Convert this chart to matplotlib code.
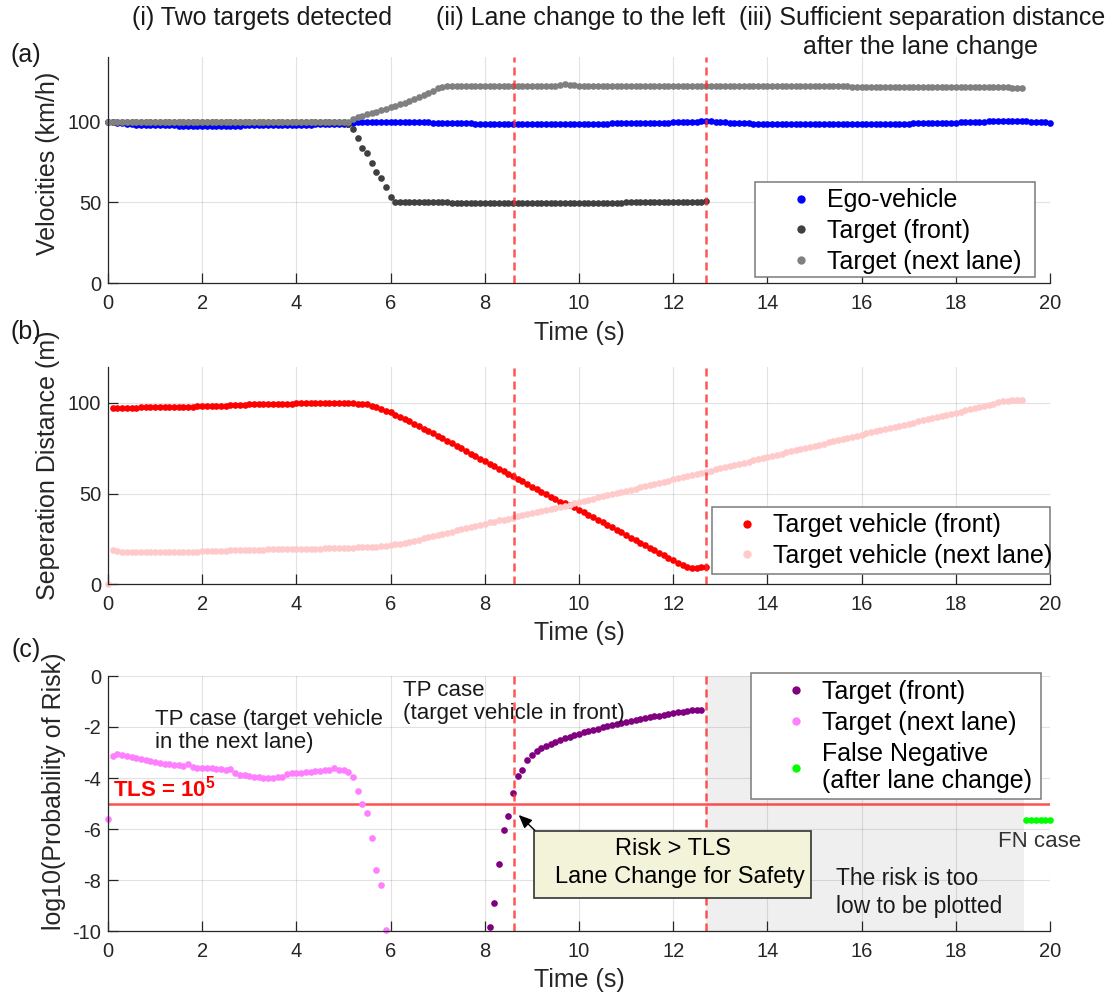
import matplotlib
matplotlib.use('Agg')
import numpy as np
import matplotlib.pyplot as plt
from matplotlib.patches import Rectangle

plt.rcParams['font.family'] = ['Liberation Sans', 'DejaVu Sans']
plt.rcParams['axes.unicode_minus'] = False
plt.rcParams['mathtext.fontset'] = 'custom'
plt.rcParams['mathtext.rm'] = 'Liberation Sans'
plt.rcParams['mathtext.bf'] = 'Liberation Sans:bold'

W, H = 1118, 997
dt = 0.1          # sampling step of every series (s)

# ---- (a) velocities (km/h), sampled every 0.1 s ----
ego_t0 = 0.0
ego_speed = [
    100.0, 99.6, 99.2, 98.9, 98.6, 98.4, 98.2, 98.1, 98.0, 97.9,
    97.8, 97.8, 97.7, 97.7, 97.7, 97.6, 97.6, 97.6, 97.6, 97.6,
    97.6, 97.6, 97.6, 97.6, 97.6, 97.6, 97.6, 97.6, 97.6, 97.7,
    97.7, 97.7, 97.7, 97.8, 97.8, 97.8, 97.9, 97.9, 98.0, 98.0,
    98.1, 98.1, 98.2, 98.2, 98.3, 98.3, 98.4, 98.4, 98.5, 98.5,
    98.6, 98.7, 99.3, 99.6, 99.7, 99.8, 99.8, 99.9, 99.9, 99.9,
    100.0, 100.0, 100.0, 99.9, 99.9, 99.8, 99.7, 99.6, 99.5, 99.4,
    99.3, 99.2, 99.1, 99.0, 99.0, 98.9, 98.9, 98.9, 98.8, 98.8,
    98.8, 98.8, 98.7, 98.7, 98.7, 98.7, 98.7, 98.7, 98.7, 98.7,
    98.7, 98.7, 98.7, 98.7, 98.7, 98.7, 98.7, 98.7, 98.7, 98.7,
    98.7, 98.7, 98.7, 98.8, 98.8, 98.8, 98.8, 98.9, 98.9, 98.9,
    99.0, 99.0, 99.1, 99.1, 99.2, 99.2, 99.3, 99.3, 99.4, 99.4,
    99.5, 99.6, 99.7, 99.8, 99.9, 100.0, 100.1, 100.2, 100.1, 100.0,
    99.8, 99.6, 99.4, 99.2, 99.1, 99.0, 98.9, 98.8, 98.8, 98.7,
    98.7, 98.7, 98.6, 98.6, 98.6, 98.6, 98.6, 98.6, 98.6, 98.6,
    98.6, 98.6, 98.6, 98.6, 98.6, 98.6, 98.6, 98.6, 98.6, 98.6,
    98.6, 98.6, 98.6, 98.6, 98.6, 98.7, 98.7, 98.7, 98.8, 98.8,
    98.8, 98.9, 98.9, 99.0, 99.0, 99.1, 99.1, 99.2, 99.2, 99.3,
    99.4, 99.5, 99.6, 99.7, 99.8, 99.9, 100.0, 100.1, 100.2, 100.3,
    100.4, 100.5, 100.5, 100.4, 100.3, 100.1, 99.9, 99.8, 99.6, 99.5,
    99.4]

front_t0 = 0.0
front_speed = [
    100.0, 100.0, 100.0, 100.0, 100.0, 100.0, 100.0, 100.0, 100.0, 100.0,
    100.0, 100.0, 100.0, 100.0, 100.0, 100.0, 100.0, 100.0, 100.0, 100.0,
    100.0, 100.0, 100.0, 100.0, 100.0, 100.0, 100.0, 100.0, 100.0, 100.0,
    100.0, 100.0, 100.0, 100.0, 100.0, 100.0, 100.0, 100.0, 100.0, 100.0,
    100.0, 100.0, 100.0, 100.0, 100.0, 100.0, 100.0, 100.0, 100.0, 100.0,
    100.0, 98.3, 95.3, 89.6, 83.5, 80.4, 74.2, 68.7, 65.4, 59.4,
    53.4, 50.3, 50.0, 50.0, 50.0, 50.0, 50.0, 50.0, 50.0, 50.0,
    50.0, 50.0, 50.0, 49.9, 49.9, 49.9, 49.9, 49.9, 49.9, 49.9,
    49.9, 49.9, 49.9, 49.9, 49.9, 49.9, 49.9, 49.9, 49.9, 49.9,
    49.8, 49.8, 49.8, 49.8, 49.8, 49.8, 49.8, 49.8, 49.8, 49.8,
    49.8, 49.9, 49.9, 49.9, 49.9, 49.9, 49.9, 49.9, 49.9, 49.9,
    50.0, 50.0, 50.0, 50.0, 50.0, 50.0, 50.0, 50.0, 50.0, 50.1,
    50.1, 50.1, 50.2, 50.2, 50.2, 50.3, 50.6, 50.9]

nextlane_t0 = 0.0
nextlane_speed = [
    100.0, 100.0, 100.0, 100.0, 100.0, 100.0, 100.0, 100.0, 100.0, 100.0,
    100.0, 100.0, 100.0, 100.0, 100.0, 100.0, 100.0, 100.0, 100.0, 100.0,
    100.0, 100.0, 100.0, 100.0, 100.0, 100.0, 100.0, 100.0, 100.0, 100.0,
    100.0, 100.0, 100.0, 100.0, 100.0, 100.0, 100.0, 100.0, 100.0, 100.0,
    100.0, 100.0, 100.0, 100.0, 100.0, 100.0, 100.0, 100.0, 100.0, 100.0,
    100.0, 100.0, 101.6, 102.6, 103.6, 104.5, 105.4, 106.2, 107.1, 108.0,
    108.9, 109.8, 110.8, 111.8, 112.8, 113.9, 115.1, 116.3, 117.5, 119.0,
    120.6, 121.6, 121.8, 121.8, 121.8, 121.8, 121.8, 121.8, 121.8, 121.8,
    121.8, 121.8, 121.8, 121.8, 121.8, 121.8, 121.8, 121.8, 121.8, 121.8,
    121.8, 121.8, 121.8, 121.8, 121.8, 122.2, 122.7, 123.0, 122.8, 122.4,
    122.0, 122.0, 122.0, 122.0, 122.0, 122.0, 122.0, 122.0, 122.0, 122.0,
    122.0, 122.0, 122.0, 122.0, 122.0, 122.0, 122.0, 122.0, 122.0, 122.0,
    122.0, 122.0, 122.0, 122.0, 122.0, 122.0, 122.0, 122.0, 121.9, 121.9,
    121.9, 121.9, 121.9, 121.9, 121.9, 121.9, 121.9, 121.9, 121.8, 121.8,
    121.8, 121.8, 121.8, 121.8, 121.8, 121.8, 121.8, 121.8, 121.8, 121.8,
    121.8, 121.8, 121.8, 121.8, 121.8, 121.8, 121.8, 121.8, 121.7, 121.7,
    121.7, 121.7, 121.7, 121.7, 121.7, 121.7, 121.7, 121.7, 121.7, 121.7,
    121.7, 121.7, 121.7, 121.7, 121.7, 121.7, 121.7, 121.7, 121.6, 121.6,
    121.6, 121.6, 121.6, 121.6, 121.6, 121.6, 121.6, 121.6, 121.5, 121.4,
    121.3, 121.2, 121.1, 121.1, 121.0]

# ---- (b) separation distance (m) ----
front_dist_t0 = 0.1
front_dist = [
    97.4, 97.4, 97.4, 97.5, 97.5, 97.5, 97.6, 97.6, 97.7, 97.7,
    97.7, 97.8, 97.8, 97.8, 97.9, 97.9, 98.0, 98.0, 98.1, 98.1,
    98.2, 98.3, 98.4, 98.5, 98.6, 98.7, 98.9, 99.0, 99.1, 99.2,
    99.3, 99.4, 99.4, 99.5, 99.5, 99.6, 99.6, 99.7, 99.7, 99.8,
    99.8, 99.8, 99.8, 99.8, 99.9, 99.9, 99.9, 99.9, 99.9, 99.9,
    99.9, 99.8, 99.7, 99.5, 99.2, 98.5, 97.6, 96.5, 95.6, 94.8,
    93.6, 92.4, 91.1, 89.8, 88.5, 87.2, 85.9, 84.6, 83.3, 81.9,
    80.5, 79.1, 77.7, 76.3, 74.9, 73.5, 72.1, 70.7, 69.3, 67.9,
    66.5, 65.1, 63.7, 62.3, 60.9, 59.5, 58.1, 56.7, 55.3, 53.9,
    52.5, 51.1, 49.7, 48.3, 46.9, 45.5, 44.6, 43.8, 42.6, 41.2,
    39.8, 38.4, 37.0, 35.6, 34.2, 32.8, 31.4, 30.0, 28.6, 27.2,
    25.8, 24.4, 23.0, 21.6, 20.2, 18.8, 17.4, 16.0, 14.6, 13.4,
    12.0, 10.6, 9.3, 9.2, 9.2, 9.3, 9.4]

next_dist_t0 = 0.0
next_dist = [
    0.0, 18.9, 18.1, 17.8, 17.8, 17.8, 17.8, 17.8, 17.8, 17.8,
    17.8, 17.8, 17.8, 17.8, 17.8, 17.8, 17.9, 17.9, 18.0, 18.0,
    18.1, 18.2, 18.3, 18.4, 18.5, 18.6, 18.7, 18.8, 18.9, 18.9,
    19.0, 19.0, 19.1, 19.1, 19.2, 19.2, 19.2, 19.3, 19.3, 19.3,
    19.4, 19.4, 19.5, 19.5, 19.6, 19.7, 19.8, 19.8, 19.9, 20.0,
    20.0, 20.1, 20.2, 20.3, 20.3, 20.4, 20.6, 20.8, 21.0, 21.3,
    21.6, 22.0, 22.4, 23.0, 23.5, 24.1, 24.7, 25.4, 26.0, 26.7,
    27.3, 27.9, 28.5, 29.1, 29.7, 30.3, 30.9, 31.6, 32.3, 32.9,
    33.5, 34.1, 34.6, 35.2, 35.7, 36.2, 36.8, 37.4, 38.0, 38.6,
    39.2, 39.8, 40.4, 41.0, 41.6, 42.2, 42.8, 43.3, 43.9, 44.7,
    45.4, 46.0, 46.6, 47.3, 47.9, 48.5, 49.1, 49.7, 50.4, 51.0,
    51.6, 52.2, 52.8, 53.5, 54.1, 54.7, 55.3, 55.9, 56.6, 57.2,
    57.8, 58.4, 59.0, 59.6, 60.3, 60.9, 61.5, 62.1, 62.7, 63.4,
    64.0, 64.6, 65.2, 65.8, 66.5, 67.1, 67.7, 68.3, 68.9, 69.6,
    70.2, 70.8, 71.4, 72.0, 72.7, 73.3, 73.9, 74.5, 75.1, 75.8,
    76.4, 77.0, 77.6, 78.2, 78.9, 79.5, 80.1, 80.7, 81.3, 82.0,
    82.6, 83.2, 83.8, 84.4, 85.0, 85.6, 86.2, 86.8, 87.4, 88.0,
    88.6, 89.2, 89.8, 90.4, 91.0, 91.6, 92.2, 92.8, 93.4, 94.0,
    94.6, 95.2, 95.9, 96.5, 97.1, 97.8, 98.4, 99.0, 99.7, 100.3,
    100.9, 101.3, 101.5, 101.6, 101.6]

# ---- (c) log10 of probability of risk ----
risk_front_t0 = 8.1
risk_front = [
    -9.83, -8.89, -7.36, -6.03, -5.49, -4.58, -3.93, -3.67, -3.31, -3.09,
    -2.95, -2.82, -2.73, -2.65, -2.58, -2.51, -2.44, -2.38, -2.32, -2.26,
    -2.21, -2.16, -2.11, -2.06, -2.01, -1.97, -1.93, -1.88, -1.84, -1.80,
    -1.76, -1.72, -1.68, -1.65, -1.61, -1.58, -1.55, -1.52, -1.49, -1.46,
    -1.43, -1.40, -1.37, -1.35, -1.34, -1.34]

risk_next_t0 = 0.0
risk_next = [
    -5.62, -3.14, -3.07, -3.10, -3.14, -3.17, -3.20, -3.25, -3.30, -3.34,
    -3.38, -3.41, -3.44, -3.46, -3.48, -3.50, -3.51, -3.46, -3.56, -3.59,
    -3.60, -3.60, -3.62, -3.63, -3.65, -3.69, -3.66, -3.80, -3.87, -3.90,
    -3.93, -3.96, -3.98, -4.00, -4.00, -4.00, -3.98, -3.96, -3.86, -3.82,
    -3.81, -3.79, -3.78, -3.76, -3.74, -3.72, -3.70, -3.67, -3.62, -3.67,
    -3.70, -3.77, -3.98, -4.51, -5.00, -5.39, -6.36, -7.60, -8.19, -9.95]

fn_t0 = 19.5
fn_risk = [-5.65, -5.65, -5.65, -5.65, -5.65, -5.65]

tls = -5.0
t_lane_change = 8.63
t_change_done = 12.7
no_plot_span = (12.7, 19.45)


def times(t0, vals):
    return t0 + dt * np.arange(len(vals))


fig = plt.figure(figsize=(W / 100, H / 100), dpi=100)


def add_axes_px(left, top, right, bottom):
    return fig.add_axes([left / W, 1 - bottom / H, (right - left) / W, (bottom - top) / H])


def style(ax, yticks, ylim):
    ax.set_xlim(0, 20)
    ax.set_ylim(*ylim)
    ax.set_xticks(range(0, 21, 2))
    ax.set_yticks(yticks)
    ax.grid(True, color='#262626', alpha=0.13, lw=0.8)
    ax.tick_params(direction='in', length=7, width=0.9, labelsize=14.5,
                   colors='#262626')
    ax.tick_params(axis='x', pad=8)
    ax.tick_params(axis='y', pad=5)
    for s in ('top', 'right'):
        ax.spines[s].set_visible(False)
    for s in ('left', 'bottom'):
        ax.spines[s].set_color('#262626')
        ax.spines[s].set_linewidth(0.9)


def event_lines(ax):
    for tx in (t_lane_change, t_change_done):
        ax.axvline(tx, color='#ff2a2a', alpha=0.8, lw=1.8,
                   linestyle=(0, (3.2, 2.0)), zorder=3)


def legend_px(ax, handles, labels, box, marker_x, top_y):
    x0, y0, x1, y1 = box
    ax.add_patch(Rectangle((x0 / W, 1 - y1 / H), (x1 - x0) / W, (y1 - y0) / H,
                           transform=fig.transFigure, facecolor='white',
                           edgecolor='#7a7a7a', lw=1.1, clip_on=False, zorder=4))
    leg = ax.legend(handles, labels, loc='upper left',
                    bbox_to_anchor=((marker_x - 12.5) / W, 1 - top_y / H),
                    bbox_transform=fig.transFigure, frameon=False, fontsize=18,
                    handlelength=1.0, handletextpad=0.55, labelspacing=0.27,
                    borderpad=0, borderaxespad=0, numpoints=1, markerscale=1.25)
    leg.set_zorder(5)
    return leg


dot = dict(linestyle='none', marker='o', ms=4.8, mew=0, clip_on=False)

# ---------------- (a) ----------------
ax1 = add_axes_px(108, 57, 1050, 283.3)
h1, = ax1.plot(times(ego_t0, ego_speed), ego_speed, color='#0000ff', **dot)
h2, = ax1.plot(times(front_t0, front_speed), front_speed, color='#404040', **dot)
h3, = ax1.plot(times(nextlane_t0, nextlane_speed), nextlane_speed, color='#808080', **dot)
event_lines(ax1)
style(ax1, [0, 50, 100], (0, 140))
ax1.set_ylabel('Velocities (km/h)', fontsize=18, va='center', color='#262626')
ax1.yaxis.set_label_coords(-0.0637, 0.529)
ax1.set_xlabel('Time (s)', fontsize=18, va='center', color='#262626')
ax1.xaxis.set_label_coords(0.5, -0.22)
legend_px(ax1, [h1, h2, h3], ['Ego-vehicle', 'Target (front)', 'Target (next lane)'],
          (755.4, 181.7, 1034.7, 276.7), 800.7, 188.3)

# ---------------- (b) ----------------
ax2 = add_axes_px(108, 366.7, 1050, 584.3)
g1, = ax2.plot(times(front_dist_t0, front_dist), front_dist, color='#ff0000', **dot)
g2, = ax2.plot(times(next_dist_t0, next_dist), next_dist, color='#ffcaca', **dot)
event_lines(ax2)
style(ax2, [0, 50, 100], (0, 120))
ax2.set_ylabel('Seperation Distance (m)', fontsize=18, va='center', color='#262626')
ax2.yaxis.set_label_coords(-0.0637, 0.548)
ax2.set_xlabel('Time (s)', fontsize=18, va='center', color='#262626')
ax2.xaxis.set_label_coords(0.5, -0.224)
legend_px(ax2, [g1, g2], ['Target vehicle (front)', 'Target vehicle (next lane)'],
          (712.2, 506.7, 1049.8, 574.3), 747.2, 513.3)

# ---------------- (c) ----------------
ax3 = add_axes_px(108, 676, 1050, 931)
ax3.axvspan(*no_plot_span, color='#efefef', lw=0, zorder=1)
ax3.axhline(tls, color='#ff3030', alpha=0.85, lw=1.8, zorder=2)
k1, = ax3.plot(times(risk_front_t0, risk_front), risk_front, color='#800080', **dot)
k2, = ax3.plot(times(risk_next_t0, risk_next), risk_next, color='#ff80ff', **dot)
k3, = ax3.plot(times(fn_t0, fn_risk), fn_risk, color='#00ff00', **dot)
event_lines(ax3)
style(ax3, [0, -2, -4, -6, -8, -10], (-10, 0))
ax3.set_ylabel('log10(Probability of Risk)', fontsize=18, va='center', color='#262626')
ax3.yaxis.set_label_coords(-0.0573, 0.547)
ax3.set_xlabel('Time (s)', fontsize=18, va='center', color='#262626')
ax3.xaxis.set_label_coords(0.5, -0.192)
legend_px(ax3, [k1, k2, k3],
          ['Target (front)', 'Target (next lane)', 'False Negative\n(after lane change)'],
          (750.9, 673.3, 1040.6, 799.3), 796.0, 680.0)

ax3.text(0.11, -4.73, r'TLS = 10$^{\mathbf{5}}$', color='#ff0000', fontsize=16,
         fontweight='bold', va='baseline', zorder=6)
ax3.text(1.0, -2.14, 'TP case (target vehicle\nin the next lane)', fontsize=16,
         va='center', linespacing=1.13, color='#1a1a1a')
ax3.text(6.26, -1.02, 'TP case\n(target vehicle in front)', fontsize=16,
         va='center', linespacing=1.16, color='#1a1a1a')
ax3.text(15.45, -8.49, 'The risk is too\nlow to be plotted', fontsize=16.4,
         va='center', linespacing=1.25, color='#1a1a1a')
ax3.text(18.89, -6.5, 'FN case', fontsize=16, va='center', color='#333333',
         clip_on=False)

ax3.add_patch(Rectangle((9.04, -8.72), 5.88, 2.65, facecolor='#f3f3da',
                        edgecolor='#333333', lw=1.2, zorder=6))
ax3.text(12.0, -6.78, 'Risk > TLS', fontsize=17, ha='center', va='center', zorder=7)
ax3.text(12.14, -7.88, 'Lane Change for Safety', fontsize=17, ha='center',
         va='center', zorder=7)
ax3.annotate('', xy=(8.72, -5.45), xytext=(9.06, -6.05),
             arrowprops=dict(arrowstyle='-|>,head_length=0.8,head_width=0.35',
                             color='black', lw=1.0, shrinkA=0, shrinkB=0), zorder=7)

# ---- header texts and panel letters ----
def ftext(x, y, s, **kw):
    fig.text(x / W, 1 - y / H, s, ha='center', va='center', fontsize=18, **kw)

ftext(262.5, 18.3, '(i) Two targets detected', color='#1a1a1a')
ftext(581, 18.3, '(ii) Lane change to the left', color='#1a1a1a')
ftext(922, 18.3, '(iii) Sufficient separation distance', color='#1a1a1a')
ftext(920.6, 46.7, 'after the lane change', color='#1a1a1a')
ftext(26, 55, '(a)', color='#1a1a1a')
ftext(26, 331.7, '(b)', color='#1a1a1a')
ftext(26, 650, '(c)', color='#1a1a1a')

fig.savefig('out.png', dpi=100)
